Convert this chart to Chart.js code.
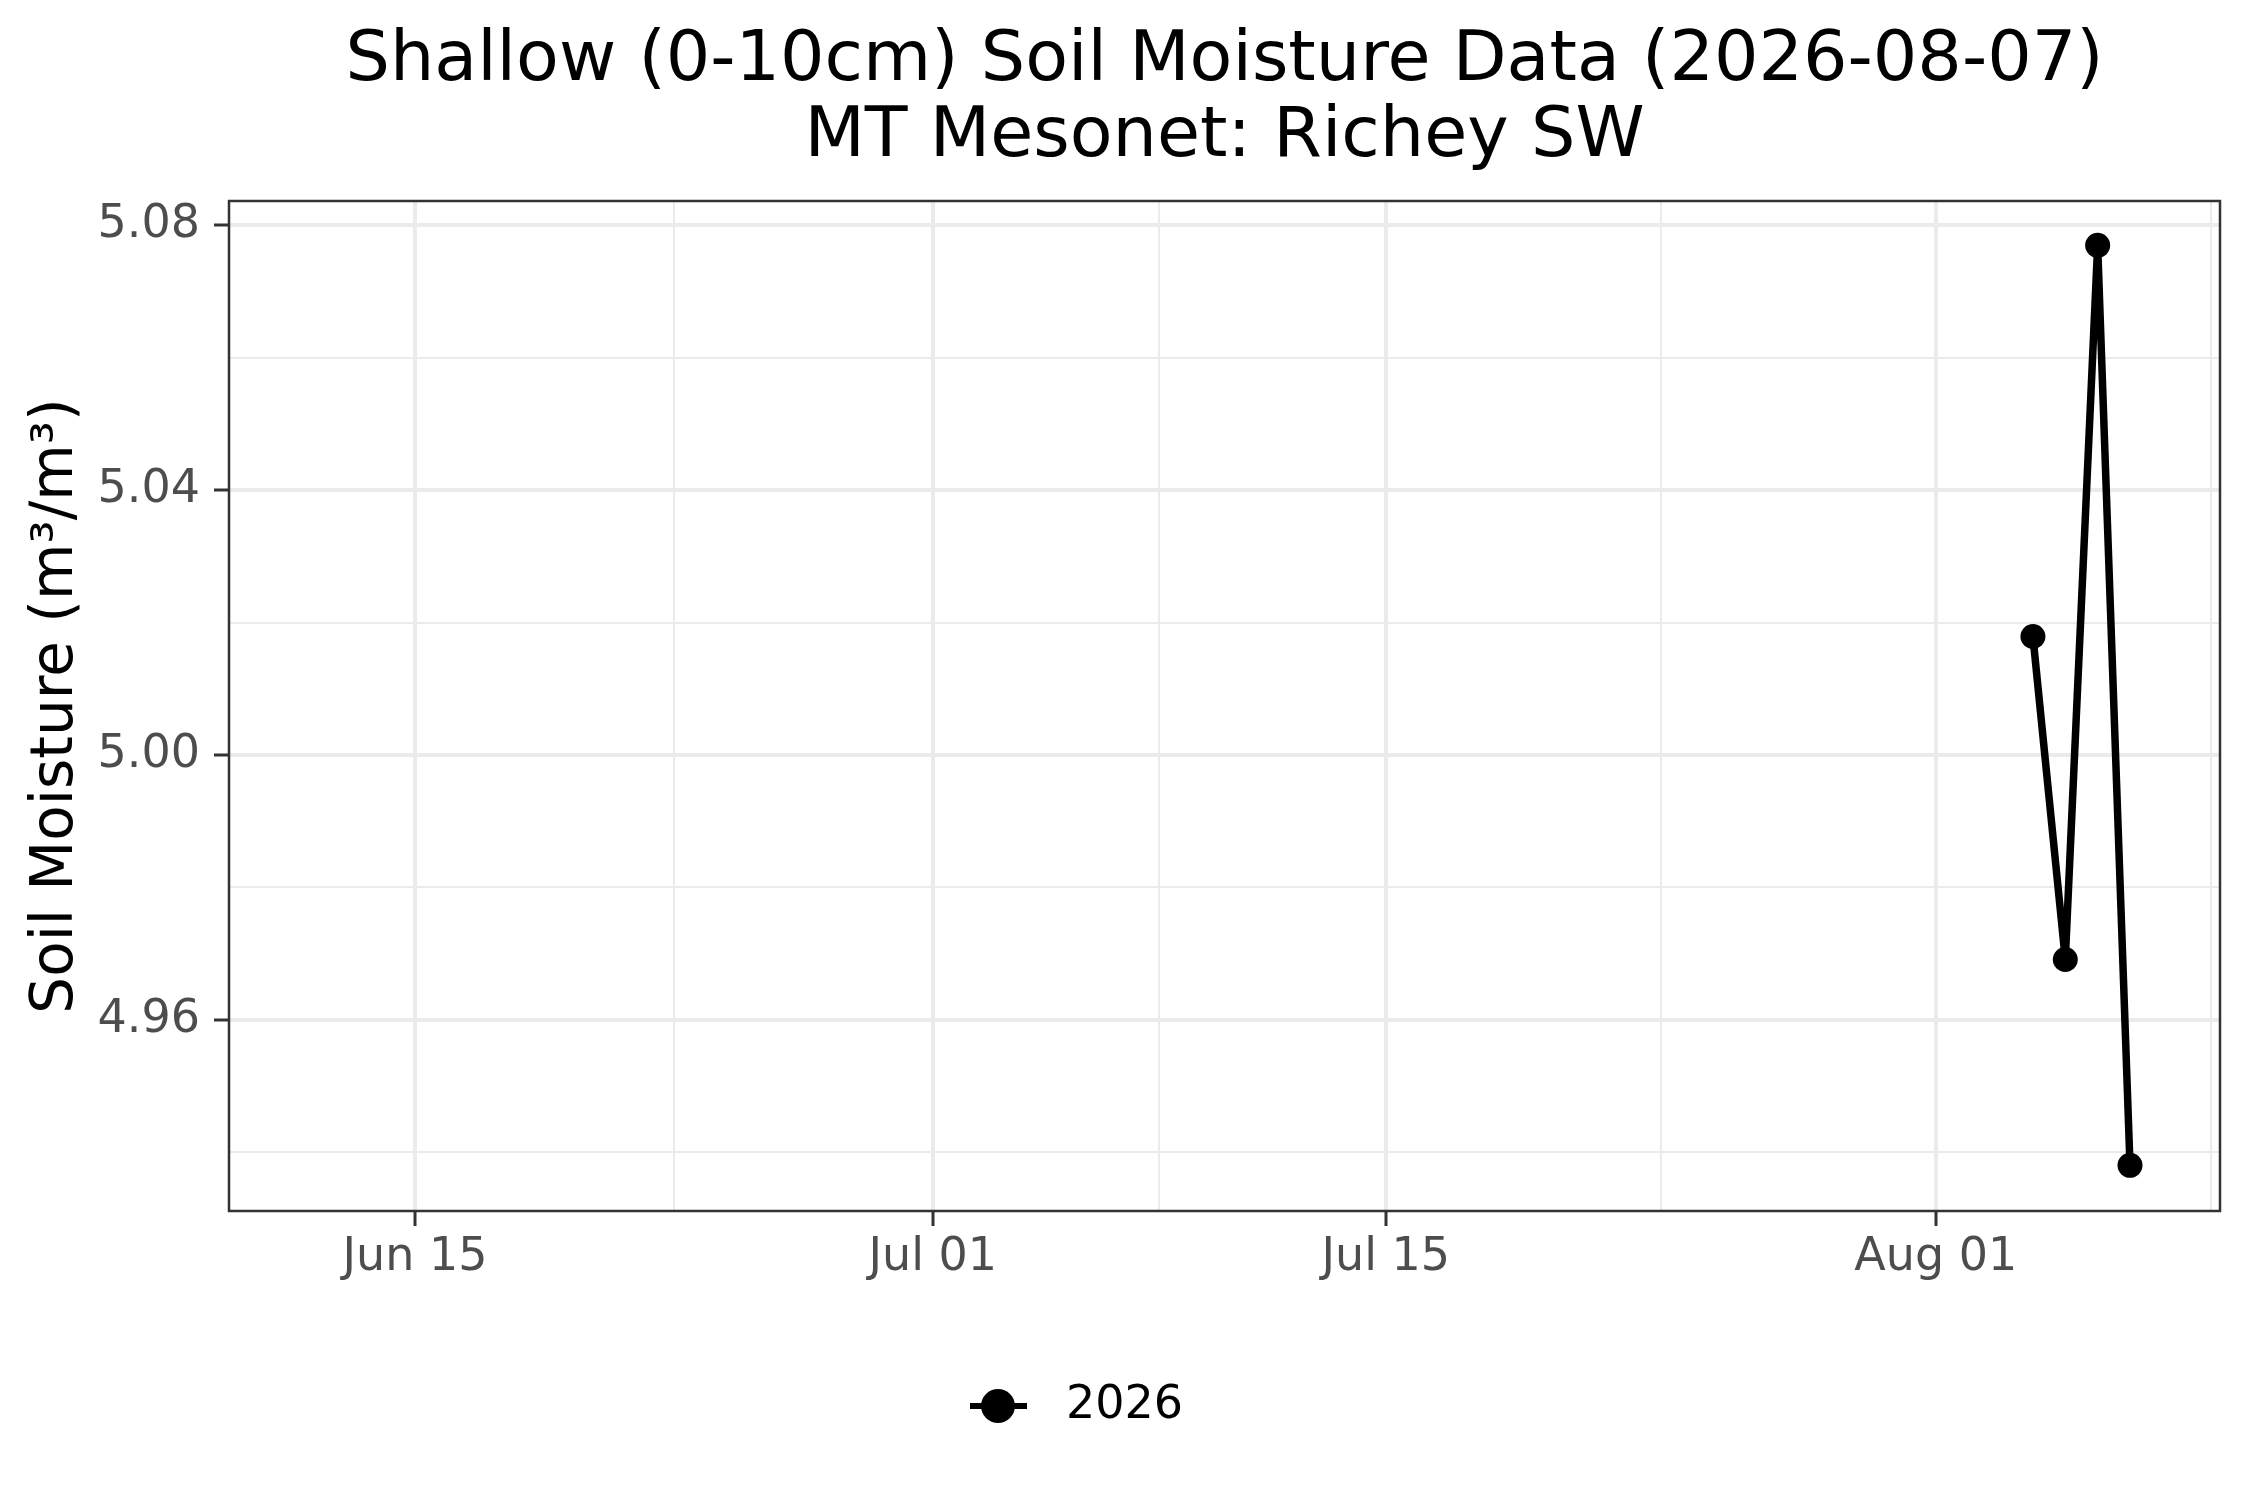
<!DOCTYPE html>
<html>
<head>
<meta charset="utf-8">
<script src="https://cdn.jsdelivr.net/npm/chart.js@4"></script>
<style>
  html, body { margin: 0; padding: 0; background: #ffffff; }
  #wrap { width: 2250px; height: 1500px; position: relative; }
</style>
</head>
<body>
<div id="wrap"><canvas id="c" width="2250" height="1500"></canvas></div>
<script>
// ---- Data ----
const titleLines = ['Shallow (0-10cm) Soil Moisture Data (2026-08-07)', 'MT Mesonet: Richey SW'];
const yAxisTitle = 'Soil Moisture (m³/m³)';
const seriesName = '2026';
const categories = ['2026-08-04', '2026-08-05', '2026-08-06', '2026-08-07'];
const values2026 = [5.0179, 4.9691, 5.0770, 4.9380];
const xTickDates = ['2026-06-15', '2026-07-01', '2026-07-15', '2026-08-01'];
const xTickLabels = ['Jun 15', 'Jul 01', 'Jul 15', 'Aug 01'];
const xMinorDates = ['2026-06-23', '2026-07-08', '2026-07-23T12:00', '2026-08-09T12:00'];
const yMajorTicks = [4.96, 5.00, 5.04, 5.08];
const yMinorTicks = [4.94, 4.98, 5.02, 5.06];
const xRange = ['2026-06-09T06:00', '2026-08-09T18:45'];
const yRange = [4.9311, 5.0837];

// day offset helper (days since 2026-06-01)
const base = Date.UTC(2026, 5, 1);
function dayNum(s) {
  const [d, t] = s.split('T');
  const [Y, M, D] = d.split('-').map(Number);
  let h = 0, m = 0;
  if (t) { [h, m] = t.split(':').map(Number); }
  return (Date.UTC(Y, M - 1, D, h, m) - base) / 86400000;
}

const points = categories.map((c, i) => ({ x: dayNum(c), y: values2026[i] }));
const xMajor = xTickDates.map(dayNum);
const xMinor = xMinorDates.map(dayNum);

const GRID = '#EBEBEB';
const AXIS_TEXT = '#4D4D4D';
const FONT = "'DejaVu Sans', sans-serif";

const isMajorX = v => xMajor.some(m => Math.abs(m - v) < 1e-6);
const isMajorY = v => yMajorTicks.some(m => Math.abs(m - v) < 1e-6);

const decorPlugin = {
  id: 'decor',
  afterDraw(chart) {
    const ctx = chart.ctx;
    const a = chart.chartArea;
    ctx.save();
    // panel border
    ctx.strokeStyle = '#333333';
    ctx.lineWidth = 2.5;
    ctx.strokeRect(a.left, a.top, a.right - a.left, a.bottom - a.top);
    // title
    const cx = (a.left + a.right) / 2;
    ctx.fillStyle = '#000000';
    ctx.font = '70px ' + FONT;
    ctx.textAlign = 'center';
    ctx.textBaseline = 'alphabetic';
    ctx.fillText(titleLines[0], cx, 80);
    ctx.fillText(titleLines[1], cx, 156);
    // y axis title
    ctx.save();
    ctx.translate(72, (a.top + a.bottom) / 2);
    ctx.rotate(-Math.PI / 2);
    ctx.font = '58px ' + FONT;
    ctx.textAlign = 'center';
    ctx.textBaseline = 'alphabetic';
    ctx.fillText(yAxisTitle, 0, 0);
    ctx.restore();
    // legend
    const ly = 1406;
    ctx.strokeStyle = '#000000';
    ctx.lineWidth = 6;
    ctx.beginPath();
    ctx.moveTo(970, ly);
    ctx.lineTo(1027, ly);
    ctx.stroke();
    ctx.beginPath();
    ctx.arc(998, ly, 17, 0, Math.PI * 2);
    ctx.fillStyle = '#000000';
    ctx.fill();
    ctx.font = '46px ' + FONT;
    ctx.textAlign = 'left';
    ctx.textBaseline = 'middle';
    ctx.fillText(seriesName, 1066, ly);
    ctx.restore();
  }
};

new Chart(document.getElementById('c'), {
  type: 'line',
  data: {
    datasets: [{
      label: seriesName,
      data: points,
      borderColor: '#000000',
      backgroundColor: '#000000',
      borderWidth: 7.5,
      pointRadius: 12.5,
      pointBorderWidth: 0,
      pointBackgroundColor: '#000000',
      tension: 0,
      fill: false,
      clip: false
    }]
  },
  options: {
    responsive: false,
    animation: false,
    devicePixelRatio: 1,
    layout: { padding: { top: 201, right: 30, left: 0, bottom: 0 } },
    plugins: { legend: { display: false }, title: { display: false }, tooltip: { enabled: false } },
    scales: {
      x: {
        type: 'linear',
        min: dayNum(xRange[0]),
        max: dayNum(xRange[1]),
        afterFit(s) { s.height = 1500 - 1211; },
        afterBuildTicks(s) {
          const all = xMajor.concat(xMinor).sort((p, q) => p - q);
          s.ticks = all.map(v => ({ value: v }));
        },
        border: { display: false },
        grid: {
          drawTicks: true,
          tickLength: 15,
          color: GRID,
          lineWidth: c => (c.tick && isMajorX(c.tick.value)) ? 4 : 2,
          tickColor: c => (c.tick && isMajorX(c.tick.value)) ? '#333333' : 'rgba(0,0,0,0)',
          tickWidth: 3
        },
        ticks: {
          autoSkip: false,
          maxRotation: 0,
          padding: 4,
          color: AXIS_TEXT,
          font: { family: FONT, size: 46 },
          callback: v => {
            const i = xMajor.findIndex(m => Math.abs(m - v) < 1e-6);
            return i >= 0 ? xTickLabels[i] : '';
          }
        }
      },
      y: {
        type: 'linear',
        min: yRange[0],
        max: yRange[1],
        afterFit(s) { s.width = 229; },
        afterBuildTicks(s) {
          const all = yMajorTicks.concat(yMinorTicks).sort((p, q) => p - q);
          s.ticks = all.map(v => ({ value: v }));
        },
        border: { display: false },
        grid: {
          drawTicks: true,
          tickLength: 15,
          color: GRID,
          lineWidth: c => (c.tick && isMajorY(c.tick.value)) ? 4 : 2,
          tickColor: c => (c.tick && isMajorY(c.tick.value)) ? '#333333' : 'rgba(0,0,0,0)',
          tickWidth: 3
        },
        ticks: {
          autoSkip: false,
          padding: 14,
          color: AXIS_TEXT,
          font: { family: FONT, size: 46 },
          callback: v => isMajorY(v) ? Number(v).toFixed(2) : ''
        }
      }
    }
  },
  plugins: [decorPlugin]
});
</script>
</body>
</html>
